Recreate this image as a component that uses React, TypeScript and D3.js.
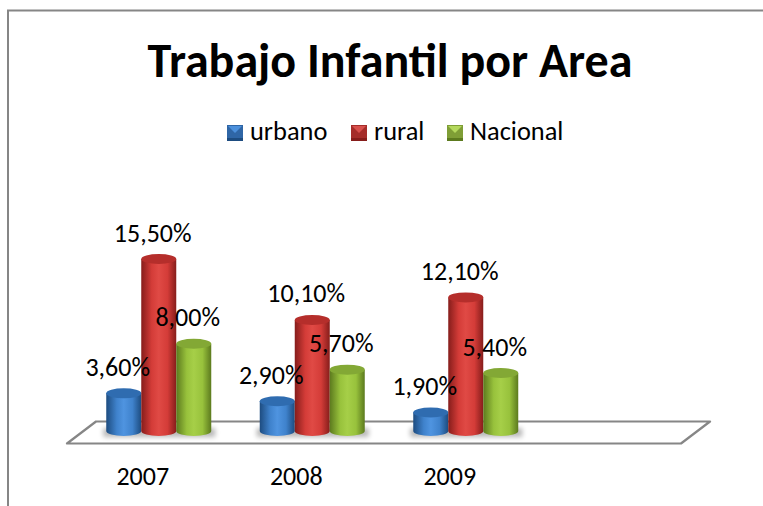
import React from "react";
import * as d3 from "d3";

const categories = ["2007", "2008", "2009", ""];
const seriesNames = ["urbano", "rural", "Nacional"];
const urbano = [3.6, 2.9, 1.9];
const rural = [15.5, 10.1, 12.1];
const nacional = [8.0, 5.7, 5.4];
const titleText = "Trabajo Infantil por Area";
const seriesValues = [urbano, rural, nacional];
const palette = [
  { id: "b", dark: "#1d4c80", mid: "#3f82cc", light: "#4f94e0", top: "#2f6cb0", sw: "#2f66a6", swTop: "#4c90dc" },
  { id: "r", dark: "#861d1b", mid: "#d43c38", light: "#e04a45", top: "#b52e2b", sw: "#a52d2a", swTop: "#d8504c" },
  { id: "g", dark: "#5c7a1e", mid: "#98c23c", light: "#a6cf48", top: "#83a835", sw: "#7f9e36", swTop: "#b4d85c" },
];
const fontFamily = "Carlito, Lato, Calibri, sans-serif";
const legendX = [227, 351, 447];

export default function App() {
  const x = d3.scaleBand<string>().domain(categories).range([81, 695]);
  const inner = d3.scaleBand<string>().domain(seriesNames).range([0, 105]);
  const y = d3.scaleLinear().domain([0, 15.5]).range([434, 259]);
  const ry = 5;
  const base = 431;
  const fmt = (v: number) => v.toFixed(2).replace(".", ",") + "%";

  return (
    <svg width={763} height={506} style={{ position: "absolute", left: 0, top: 0, background: "#fff" }} fontFamily={fontFamily}>
      <defs>
        {palette.map((p) => (
          <linearGradient key={p.id} id={"cyl" + p.id} x1="0" x2="1" y1="0" y2="0">
            <stop offset="0" stopColor={p.dark} />
            <stop offset="0.3" stopColor={p.mid} />
            <stop offset="0.5" stopColor={p.light} />
            <stop offset="0.75" stopColor={p.mid} />
            <stop offset="1" stopColor={p.dark} />
          </linearGradient>
        ))}
        <filter id="blur" x="-20%" y="-100%" width="140%" height="300%">
          <feGaussianBlur stdDeviation="2.5" />
        </filter>
      </defs>

      <path d="M8,506V10.5H763" fill="none" stroke="#868686" strokeWidth={2} />
      <text x={390} y={77} textAnchor="middle" fontSize={48} fontWeight={700} fill="#000">{titleText}</text>

      {seriesNames.map((name, i) => {
        const p = palette[i];
        const lx = legendX[i];
        return (
          <g key={name}>
            <rect x={lx} y={125} width={16} height={16} fill={p.sw} />
            <path d={`M${lx + 1},${126}H${lx + 15}L${lx + 8},${133}Z`} fill={p.swTop} />
            <rect x={lx} y={138} width={16} height={3} fill={p.dark} />
            <text x={lx + 23} y={140} fontSize={26.4} fill="#000">{name}</text>
          </g>
        );
      })}

      <path
        d={`M${x.range()[0] - 14},443.5H${x.range()[1] - 14}L${x.range()[1] + 15},421.5H${x.range()[0] + 15}Z`}
        fill="none" stroke="#868686" strokeWidth={2.2} strokeLinejoin="round"
      />

      {categories.slice(0, 3).map((cat, c) => {
        const x0 = x(cat)! + x.bandwidth() / 2 - 51.5;
        return (
          <g key={cat}>
            <rect x={x0 - 3} y={428} width={112} height={9} fill="#000" opacity={0.28} filter="url(#blur)" />
            {seriesNames.map((name, s) => {
              const v = seriesValues[s][c];
              const bx = x0 + inner(name)!;
              const w = inner.bandwidth();
              const cx = bx + w / 2;
              const top = y(v);
              const p = palette[s];
              return (
                <g key={name}>
                  <path
                    d={`M${bx},${top}V${base}A${w / 2},${ry} 0 0 0 ${bx + w},${base}V${top}Z`}
                    fill={`url(#cyl${p.id})`}
                  />
                  <ellipse cx={cx} cy={top} rx={w / 2} ry={ry} fill={p.top} />
                </g>
              );
            })}
          </g>
        );
      })}

      {categories.slice(0, 3).map((cat, c) => {
        const x0 = x(cat)! + x.bandwidth() / 2 - 51.5;
        return (
          <g key={cat}>
            {seriesNames.map((name, s) => {
              const v = seriesValues[s][c];
              const cx = x0 + inner(name)! + inner.bandwidth() / 2;
              return (
                <text key={name} x={cx - 6} y={y(v) - 17.5} textAnchor="middle" fontSize={26} fill="#000">{fmt(v)}</text>
              );
            })}
            <text x={x(cat)! + x.bandwidth() / 2 - 15} y={485} textAnchor="middle" fontSize={26} fill="#000">{cat}</text>
          </g>
        );
      })}
    </svg>
  );
}
